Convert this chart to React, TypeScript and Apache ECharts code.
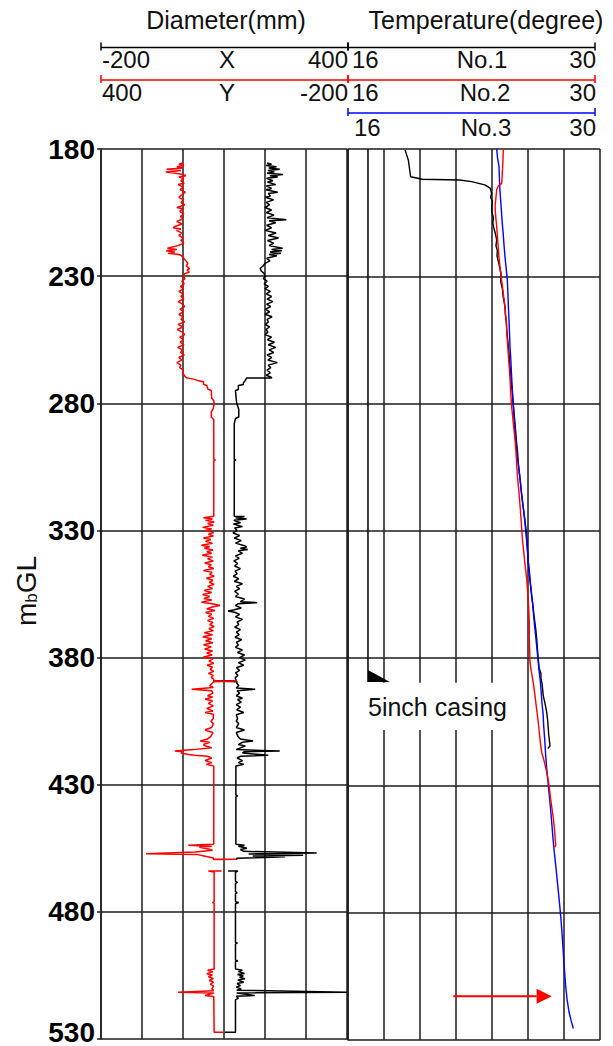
import React, { useEffect, useRef } from 'react';
import * as echarts from 'echarts';

const FONT = "'Liberation Sans', Arial, Helvetica, sans-serif";

// depth axis (m below ground level)
const depthMin = 180;
const depthMax = 530;
const depthStep = 50;

// header scales
const diameterRows = [
  ['-200', 'X', '400'],
  ['400', 'Y', '-200'],
];
const temperatureRows = [
  ['16', 'No.1', '30'],
  ['16', 'No.2', '30'],
  ['16', 'No.3', '30'],
];

// Caliper X (mm) : [depth, value]  (black)
const caliperX1: [number, number][] = [
  [185.5,205],[186,216],[186.5,203],[187,228],[187.5,209],[188,236],[188.5,207],[189,223],[189.5,205],[190,244],[190.5,212],[191,231],[191.5,204],[192.5,219],[193,206],[194,226],[194.5,203],[195.5,216],[196,202],[197,231],[197.5,208],[198.5,213],[199,201],[200,221],[201,203],[202,211],[203,200],[204,216],[205,203],[206,222],[207,205],[207.8,252],[208.2,210],[209,226],[210,204],[211,216],[212,200],[213,227],[214,208],[215,233],[216,206],[217,221],[218,210],[219,243],[219.5,216],[220,241],[220.5,212],[221,239],[221.5,210],[222,229],[223,204],[224,212],[225,200],[226,195],[227,188],[228,191],[229,198],[230,200],[231,196],[232,205],[233,198],[234,208],[235,200],[236,213],[237,203],[238,216],[239,205],[240,219],[241,204],[242,214],[243,201],[244,211],[245,200],[246,217],[247,205],[248,208],[249,201],[250,211],[251,202],[252,207],[253,200],[254,216],[255,206],[256,223],[257,208],[258,226],[259,210],[260,221],[261,205],[262,216],[263,207],[264,230],[265,208],[266,214],[267,205],[268,213],[269,203],[269.8,216],[270.1,216],[270.1,155],[271,152],[272,147],[272.6,147],[273,135],[274.6,135],[275,128],[278.6,130],[280,131],[282.3,136],[285.4,136],[286,128],[288,125],[302,125],[302.3,129],[302.6,125],[324.4,125],
  [324.5,150],[325,128],[325.5,155],[326,124],[327,140],[327.5,123],[328.5,145],[329,126],[330,132],[331,122],[332,138],[333,125],[334,142],[335,128],[336,150],[336.5,155],[337,140],[337.5,158],[338,135],[339,145],[340,128],[341,137],[342,124],[343,133],[344,126],[345,140],[346,127],[347,132],[348,123],[349,136],[350,125],[351,145],[352,130],[353,138],[354,126],[355,135],[356,128],[357,150],[358,140],[358.4,181],[358.8,135],[359.5,128],[360.5,142],[361.2,125],[361.7,110],[362.2,126],[363,138],[364,128],[365,145],[366,132],[367,136],[368,126],[369,140],[370,130],[371,137],[372,127],[373,143],[374,130],[375,135],[376,128],[377,145],[378,133],[379,150],[380,138],[381,152],[382,135],[383,148],[384,130],[385,138],[386,128],[387,134],[388,127],[389,130],[389.2,78],[389.5,132],
  [390,131],[391,136],[392,130],[392.5,176],[393,132],[394,138],[395,130],[396,145],[396.5,133],[397.5,142],[398.5,130],[399.5,140],[400.5,131],[401.6,148],[402.5,130],[404,133],[405,130],[406,136],[407.5,130],[408.5,150],[409,140],[409.5,130],[411,134],[412,140],[412.8,171],[413.3,145],[414.2,135],[414.8,152],[415.5,140],[416.2,130],[416.7,236],[417,150],[417.5,145],[418.4,208],[418.8,140],[419.5,132],[420.5,145],[421.3,135],[422,148],[422.6,129],
  [434,129],[434.4,133],[434.8,129],[453.4,129],
  [453.8,150],[454.2,135],[455,156],[455.5,140],[456.2,148],[456.9,326],[457.2,160],[457.7,293],[458,170],[458.3,249],[458.6,200],[458.9,131],[459.4,131],
];
const caliperX2: [number, number][] = [
  [463.9,110],[463.9,134],[464.5,128],[468,128],[468.4,133],[468.8,128],[472,128],[472.4,132],[472.8,128],[476,128],[476.3,136],[476.8,128],[492,128],[492.3,133],[492.6,128],[499,128],[499.2,134],[499.5,128],[502.5,128],[503,145],[503.5,135],[504.2,150],[504.6,133],[505.2,147],[505.7,138],[506.3,151],[506.8,134],[507.7,148],[508.2,132],[509,140],[509.6,130],[510.3,142],[510.8,131],[511.6,400],[511.9,131],[512.9,175],[513.2,130],[514,135],[514.5,128],[527.3,128],[527.3,102],
];

// Caliper Y (mm) : [depth, value]  (red, plotted on a reversed scale)
const caliperY1: [number, number][] = [
  [185.5,201],[186,210],[186.5,198],[187,215],[187.5,200],[188,240],[188.5,205],[189,242],[189.5,218],[190,200],[190.5,193],[191,210],[191.5,199],[192.5,205],[193.5,197],[194,212],[195,199],[196,207],[197,194],[198,203],[199,210],[200,199],[201,205],[202,196],[203,215],[203.5,200],[204.5,208],[205.5,198],[206.5,206],[207.5,200],[208.5,215],[209.5,202],[210.5,220],[211,224],[211.5,205],[212,216],[213,203],[214,210],[215,200],[216,205],[217,198],[218,212],[219,238],[219.5,215],[220,241],[220.5,220],[221,236],[221.5,210],[222,203],[223,198],[224,193],[225,188],[226,192],[227,184],[227.5,190],[228.5,185],[229,196],[230,200],[231,195],[232,203],[233,197],[234,206],[235,199],[236,210],[237,200],[238,205],[239,198],[240,212],[241,201],[242,196],[243,207],[244,199],[245,210],[246,200],[247,205],[248,196],[249,212],[250,200],[251,214],[252,202],[253,196],[254,208],[255,199],[256,207],[257,198],[258,213],[259,201],[260,206],[261,197],[262,210],[263,203],[264,215],[265,205],[266,208],[267,199],[268,201],[269.5,195],[270.1,190],[270.1,187],[270.6,172],[271,165],[271.5,150],[272.5,150],[273,142],[274.5,139],[275,131],[278,130],[279,125],[280,124],[282,126],[283.5,131],[285.5,131],[286.4,125],[302,125],[302.3,121],[302.6,125],[324.4,125],
  [325,150],[325.5,128],[326,145],[326.7,124],[327.3,140],[328,126],[328.8,152],[329.4,130],[330,146],[330.8,125],[331.5,138],[332.2,126],[333,150],[333.6,132],[334.3,145],[335,128],[335.8,155],[336.4,135],[337,148],[337.7,127],[338.4,142],[339,130],[339.8,153],[340.5,128],[341.2,140],[342,126],[342.8,147],[343.5,131],[344.3,138],[345,125],[345.8,150],[346.5,129],[347.3,135],[348,124],[348.8,143],[349.6,127],[350.4,136],[351.2,124],[352,140],[352.8,128],[353.6,148],[354.4,130],[355.2,152],[356,135],[356.8,149],[357.4,130],[358.2,155],[358.8,128],[359.5,110],[360,126],[360.8,142],[361.5,122],[362.3,145],[363,130],[363.8,138],[364.6,125],[365.4,140],[366.2,127],[367,135],[367.8,124],[368.6,137],[369.4,126],[370.2,148],[371,128],[371.8,152],[372.6,130],[373.4,145],[374.2,127],[375,150],[375.8,131],[376.6,147],[377.4,128],[378.2,142],[379,129],[379.8,150],[380.6,127],[381.4,137],[382.2,125],[383,141],[383.8,128],[384.6,134],[385.4,125],[386.2,138],[387,126],[387.8,131],[388.6,125],[389.2,125],[389.2,68],[389.5,125],
  [390,128],[391,135],[391.8,126],[392.5,179],[393,130],[394,127],[395,140],[395.5,128],[396.4,146],[397,128],[398,138],[399,126],[400,142],[401,127],[401.6,146],[402.3,126],[404,126],[405,132],[406,126],[407.5,130],[408.4,146],[408.9,140],[409.5,127],[411,132],[412,140],[412.8,158],[413.3,135],[414.2,150],[414.8,145],[415.5,130],[416.2,175],[416.7,220],[417,200],[417.5,205],[418,190],[418.4,172],[418.8,140],[419.5,130],[420.5,146],[421.3,130],[422,143],[422.6,125],
  [453.4,125],
  [453.8,187],[454.2,130],[454.6,160],[455.3,138],[455.8,128],[456.5,170],[457.1,290],[457.4,166],[457.8,154],[458.3,140],[458.8,126],[459.3,126],[459.3,68],[459.4,126],
];
const caliperY2: [number, number][] = [
  [463.9,106],[463.9,138],[464.3,124],[476,124],[476.3,128],[476.6,124],[502.5,124],[503,140],[503.6,127],[504.3,142],[504.8,128],[505.5,138],[506.2,126],[507,136],[507.6,126],[508.5,133],[509.2,125],[510.3,130],[511,125],[511.6,212],[511.9,125],[512.9,146],[513.3,125],[527.3,124],[527.3,102],
];

// Temperature (degree) : [depth, value]
const tempNo1: [number, number][] = [
  [180.4,19.17],[184.3,19.35],[190.9,19.48],[191.9,20.13],[192.2,22.2],[192.8,22.87],[194.1,23.6],[195.4,23.9],[197.4,23.98],[199,23.92],[200.5,24.02],[202.6,23.98],[205,24.0],[207,24.08],[209,24.05],[211,24.1],[213,24.18],[215.7,24.26],[218,24.22],[220,24.3],[222,24.28],[225,24.38],[228.8,24.5],[232,24.48],[235,24.58],[238,24.62],[241.8,24.72],[245,24.74],[248,24.8],[251,24.82],[254.9,24.87],[258,24.92],[261,24.95],[264,24.98],[267.9,25.04],[271,25.06],[275,25.12],[278,25.15],[281,25.19],[285,25.24],[288,25.28],[291.4,25.32],[295,25.36],[299,25.42],[303.3,25.46],[307,25.52],[311,25.58],[316.3,25.65],[320,25.72],[324,25.8],[329.4,25.89],[333,25.93],[337,25.97],[342.5,26.02],[346,26.08],[350,26.12],[355.6,26.2],[359,26.27],[363,26.33],[368.6,26.43],[372,26.48],[376,26.52],[380.4,26.57],[384,26.62],[386,26.72],[388,26.72],[390,26.78],[394.8,26.85],[398,26.95],[401.3,27.04],[405,27.1],[410,27.15],[413,27.2],[414.5,27.22],[415.5,27.1],
];
const tempNo2: [number, number][] = [
  [180,24.63],[186,24.6],[193.5,24.54],[194.5,24.35],[196,24.26],[199,24.22],[202.6,24.17],[206,24.2],[210.5,24.26],[214,24.3],[218,24.34],[222,24.38],[226.1,24.44],[230,24.5],[234,24.58],[238,24.65],[241.8,24.72],[246,24.77],[250,24.81],[254,24.84],[258,24.88],[261.4,24.91],[266,24.96],[270,25.0],[275,25.03],[281,25.09],[286,25.16],[291.5,25.24],[296,25.3],[300,25.34],[305,25.38],[309.8,25.43],[315,25.5],[320.3,25.56],[326,25.62],[333.3,25.69],[338,25.76],[343,25.83],[349,25.93],[354,25.98],[358,26.02],[363.4,26.06],[368,26.08],[372,26.07],[376,26.09],[381.7,26.11],[385,26.18],[390,26.3],[394.8,26.39],[400,26.48],[405.2,26.57],[410,26.64],[414,26.7],[417,26.76],[420,26.88],[423.5,27.0],[427,27.1],[430,27.17],[435,27.25],[440,27.35],[443.1,27.41],[448,27.48],[453.6,27.54],[454.3,27.5],
];
const tempNo3: [number, number][] = [
  [180,24.26],[183,24.3],[187,24.39],[191,24.41],[196,24.44],[200,24.48],[204,24.52],[209.1,24.57],[213,24.62],[217,24.66],[222.2,24.72],[227,24.79],[231.4,24.85],[236,24.88],[241.8,24.91],[248,24.95],[252,24.97],[257.5,25.0],[262,25.04],[268,25.08],[274.5,25.13],[280,25.18],[286,25.23],[291.5,25.28],[298,25.36],[304,25.46],[309.8,25.56],[315,25.64],[321,25.74],[326.8,25.83],[332,25.9],[338,25.97],[346.4,26.06],[351,26.14],[356,26.22],[362.1,26.3],[367,26.36],[371,26.42],[375.2,26.48],[380,26.55],[384,26.6],[388.2,26.67],[393,26.73],[398,26.78],[402,26.84],[406.5,26.87],[412,26.93],[418,26.98],[423.5,27.04],[430,27.13],[436.6,27.22],[443,27.3],[450,27.38],[456.2,27.46],[462,27.55],[467,27.62],[471.9,27.69],[477,27.76],[482.4,27.83],[488,27.89],[495.5,27.96],[502,28.02],[508.5,28.09],[514,28.17],[519,28.28],[522.5,28.4],[525.5,28.52],
];

// 5 inch casing annotation (temperature-panel units)
const casingLine: [number, number][] = [[180, 17.11], [389.4, 17.11]];
const casingShoe: [number, number][] = [[384.7, 17.11], [389.4, 17.11], [389.4, 18.33]];
const casingLabel = '5inch casing';
const casingLabelPos: [number, number] = [399.3, 17.11];
const casingBox: [number, number][] = [[389.7, 16.1], [408.2, 25.6]];

// red arrow (temperature-panel units)
const arrowDepth = 512.8;
const arrowStart = 21.85;
const arrowHeadBase = 26.48;
const arrowHeadTip = 27.32;

const toXY = (arr: [number, number][]) => arr.map(([d, v]) => [v, d]);

const GRID_COLOR = '#1c1c1c';

function headerAxis(x1: number, x2: number, y: number, color: string) {
  const ls = { stroke: color, lineWidth: 1.5 };
  return [
    { type: 'line', shape: { x1, y1: y, x2, y2: y }, style: ls, silent: true },
    { type: 'line', shape: { x1, y1: y - 5, x2: x1, y2: y + 3 }, style: ls, silent: true },
    { type: 'line', shape: { x1: x2, y1: y - 5, x2, y2: y + 3 }, style: ls, silent: true },
  ];
}

function headerLabels(row: string[], xl: number, xc: number, xr: number, y: number) {
  const base = { fontSize: 24, fontFamily: FONT, fill: '#111', verticalAlign: 'middle' };
  return [
    { type: 'text', x: xl, y, style: { ...base, text: row[0], align: 'left' }, silent: true },
    { type: 'text', x: xc, y, style: { ...base, text: row[1], align: 'center' }, silent: true },
    { type: 'text', x: xr, y, style: { ...base, text: row[2], align: 'right' }, silent: true },
  ];
}

export default function App() {
  const ref = useRef<HTMLDivElement>(null);

  useEffect(() => {
    if (!ref.current) return;
    const chart = echarts.init(ref.current, null, { renderer: 'svg' });

    const gridLine = { color: GRID_COLOR, width: 1.5 };
    const lineCommon = {
      type: 'line',
      showSymbol: false,
      symbol: 'none',
      animation: false,
      smooth: false,
    };

    const option: any = {
      animation: false,
      backgroundColor: '#ffffff',
      textStyle: { fontFamily: FONT },
      grid: [
        { left: 101, top: 149, width: 246, height: 891 },
        { left: 348, top: 149, width: 252, height: 891 },
      ],
      xAxis: [
        {
          gridIndex: 0, type: 'value', min: -200, max: 400, interval: 100,
          axisLine: { show: false }, axisTick: { show: false }, axisLabel: { show: false },
          splitLine: { show: true, lineStyle: gridLine },
        },
        {
          gridIndex: 0, type: 'value', min: -200, max: 400, inverse: true, show: false,
          splitLine: { show: false },
        },
        {
          gridIndex: 1, type: 'value', min: 16, max: 30, interval: 2,
          axisLine: { show: false }, axisTick: { show: false }, axisLabel: { show: false },
          splitLine: { show: true, lineStyle: gridLine },
        },
      ],
      yAxis: [
        {
          gridIndex: 0, type: 'value', min: depthMin, max: depthMax, interval: depthStep, inverse: true,
          axisLine: { show: true, onZero: false, lineStyle: gridLine },
          axisTick: { show: true, length: 4, lineStyle: gridLine },
          axisLabel: {
            show: true, margin: 6, fontSize: 28, color: '#000', fontFamily: FONT, fontWeight: 'bold',
            formatter: (v: number) => (v === depthMax ? '{last|' + v + '}' : '{n|' + v + '}'),
            rich: {
              n: { fontSize: 28, color: '#000', fontFamily: FONT, fontWeight: 'bold' },
              last: { fontSize: 28, color: '#000', fontFamily: FONT, fontWeight: 'bold', padding: [0, 0, 14, 0] },
            },
          },
          splitLine: { show: true, lineStyle: gridLine },
        },
        {
          gridIndex: 1, type: 'value', min: depthMin, max: depthMax, interval: depthStep, inverse: true,
          axisLine: { show: true, onZero: false, lineStyle: gridLine },
          axisTick: { show: false }, axisLabel: { show: false },
          splitLine: { show: true, lineStyle: gridLine },
        },
      ],
      series: [
        { ...lineCommon, name: 'X', xAxisIndex: 0, yAxisIndex: 0, data: toXY(caliperX1), lineStyle: { color: '#000', width: 1.5 } },
        { ...lineCommon, name: 'X2', xAxisIndex: 0, yAxisIndex: 0, data: toXY(caliperX2), lineStyle: { color: '#000', width: 1.5 } },
        { ...lineCommon, name: 'Y', xAxisIndex: 1, yAxisIndex: 0, data: toXY(caliperY1), lineStyle: { color: '#ff0000', width: 1.5 } },
        { ...lineCommon, name: 'Y2', xAxisIndex: 1, yAxisIndex: 0, data: toXY(caliperY2), lineStyle: { color: '#ff0000', width: 1.5 } },
        { ...lineCommon, name: 'casing', xAxisIndex: 2, yAxisIndex: 1, data: toXY(casingLine), lineStyle: { color: '#000', width: 1.5 } },
        { ...lineCommon, name: 'No.1', xAxisIndex: 2, yAxisIndex: 1, data: toXY(tempNo1), lineStyle: { color: '#000', width: 1.4 } },
        { ...lineCommon, name: 'No.3', xAxisIndex: 2, yAxisIndex: 1, data: toXY(tempNo3), lineStyle: { color: '#0000ff', width: 1.4 } },
        { ...lineCommon, name: 'No.2', xAxisIndex: 2, yAxisIndex: 1, data: toXY(tempNo2), lineStyle: { color: '#ff0000', width: 1.4 } },
        {
          type: 'custom', name: 'casingNote', xAxisIndex: 2, yAxisIndex: 1, silent: true,
          data: [[casingLabelPos[1], casingLabelPos[0]]],
          renderItem: (_p: any, api: any) => {
            const pts = casingShoe.map(([d, t]) => api.coord([t, d]));
            const b0 = api.coord([casingBox[0][1], casingBox[0][0]]);
            const b1 = api.coord([casingBox[1][1], casingBox[1][0]]);
            const lp = api.coord([casingLabelPos[1], casingLabelPos[0]]);
            return {
              type: 'group',
              children: [
                { type: 'polygon', shape: { points: pts }, style: { fill: '#000' } },
                { type: 'rect', shape: { x: b0[0], y: b0[1], width: b1[0] - b0[0], height: b1[1] - b0[1] }, style: { fill: '#fff' } },
                { type: 'text', x: lp[0], y: lp[1], style: { text: casingLabel, fontSize: 25, fontFamily: FONT, fill: '#111', align: 'left', verticalAlign: 'middle' } },
              ],
            };
          },
        },
        {
          type: 'custom', name: 'arrow', xAxisIndex: 2, yAxisIndex: 1, silent: true,
          data: [[arrowStart, arrowDepth]],
          renderItem: (_p: any, api: any) => {
            const p0 = api.coord([arrowStart, arrowDepth]);
            const p1 = api.coord([arrowHeadBase, arrowDepth]);
            const p2 = api.coord([arrowHeadTip, arrowDepth]);
            return {
              type: 'group',
              children: [
                { type: 'line', shape: { x1: p0[0], y1: p0[1], x2: p1[0], y2: p1[1] }, style: { stroke: '#ff0000', lineWidth: 2 } },
                { type: 'polygon', shape: { points: [[p1[0], p1[1] - 7.5], [p2[0], p2[1]], [p1[0], p1[1] + 7.5]] }, style: { fill: '#ff0000' } },
              ],
            };
          },
        },
      ],
      graphic: [
        { type: 'text', x: 226, y: 20, style: { text: 'Diameter(mm)', fontSize: 25, fontFamily: FONT, fill: '#111', align: 'center', verticalAlign: 'middle' }, silent: true },
        { type: 'text', x: 486, y: 20, style: { text: 'Temperature(degree)', fontSize: 25, fontFamily: FONT, fill: '#111', align: 'center', verticalAlign: 'middle' }, silent: true },
        ...headerAxis(101, 348, 47.5, '#000'),
        ...headerAxis(101, 348, 80, '#ff0000'),
        ...headerAxis(348, 595, 47.5, '#000'),
        ...headerAxis(348, 595, 80, '#ff0000'),
        ...headerAxis(348, 595, 113, '#0000ff'),
        ...headerLabels(diameterRows[0], 102, 227, 348, 59),
        ...headerLabels(diameterRows[1], 102, 227, 348, 92),
        ...headerLabels(temperatureRows[0], 352, 482, 596, 59),
        ...headerLabels(temperatureRows[1], 352, 485, 596, 92),
        ...headerLabels(temperatureRows[2], 354, 486, 596, 127),
        {
          type: 'text', x: 26, y: 591, rotation: Math.PI / 2, silent: true,
          style: {
            text: '{a|m}{b|b}{a|GL}', fill: '#111', align: 'center', verticalAlign: 'middle',
            rich: {
              a: { fontSize: 28, fontFamily: FONT, verticalAlign: 'bottom' },
              b: { fontSize: 17, fontFamily: FONT, verticalAlign: 'bottom' },
            },
          },
        },
      ],
    };

    chart.setOption(option);
    return () => chart.dispose();
  }, []);

  return (
    <div
      ref={ref}
      style={{ position: 'absolute', left: 0, top: 0, width: 613, height: 1046, background: '#fff' }}
    />
  );
}
